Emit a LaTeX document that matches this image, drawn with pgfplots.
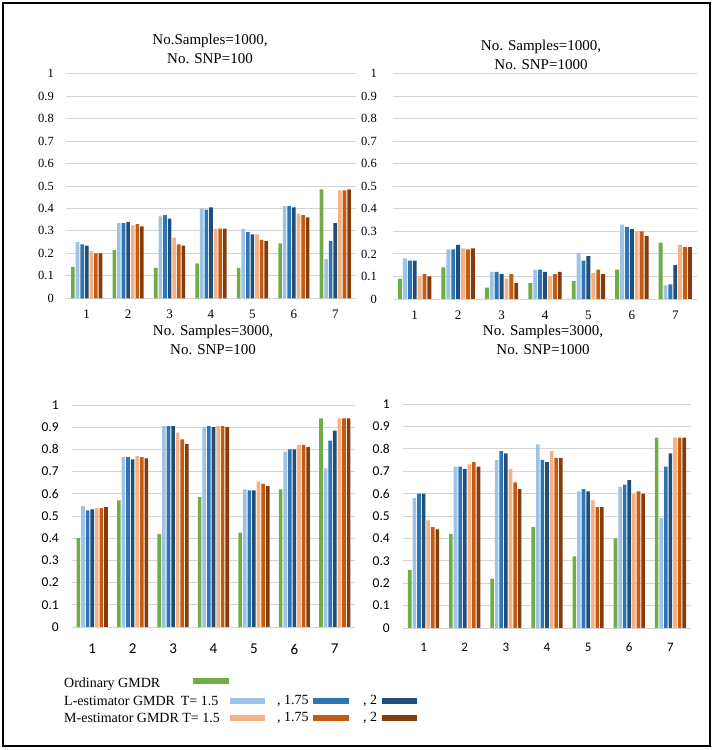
\documentclass[border=0pt]{standalone}
\usepackage{fontspec}
\setmainfont{Liberation Serif}
\newfontfamily\calib{Carlito}
\usepackage{pgfplots}
\usepackage{pgfplotstable}
\pgfplotsset{compat=1.18}

\definecolor{cg}{HTML}{70AD47}
\definecolor{lb}{HTML}{9DC3E6}
\definecolor{mb}{HTML}{2E75B6}
\definecolor{db}{HTML}{1F4E79}
\definecolor{lo}{HTML}{F4B183}
\definecolor{mo}{HTML}{C55A11}
\definecolor{br}{HTML}{843C0C}

\pgfplotstableread{
g a b c d e f h
1 0.14 0.25 0.24 0.235 0.21 0.20 0.20
2 0.215 0.335 0.335 0.34 0.325 0.33 0.32
3 0.135 0.365 0.37 0.355 0.27 0.24 0.235
4 0.155 0.40 0.395 0.405 0.31 0.31 0.31
5 0.135 0.31 0.295 0.285 0.285 0.26 0.255
6 0.245 0.41 0.41 0.405 0.375 0.37 0.36
7 0.485 0.175 0.255 0.335 0.48 0.48 0.485
}\tA
\pgfplotstableread{
g a b c d e f h
1 0.09 0.18 0.17 0.17 0.10 0.11 0.10
2 0.14 0.22 0.22 0.24 0.225 0.22 0.225
3 0.05 0.12 0.12 0.11 0.09 0.11 0.07
4 0.07 0.13 0.13 0.12 0.10 0.11 0.12
5 0.08 0.205 0.17 0.19 0.115 0.13 0.11
6 0.13 0.33 0.32 0.31 0.30 0.30 0.28
7 0.25 0.06 0.065 0.15 0.24 0.23 0.23
}\tB
\pgfplotstableread{
g a b c d e f h
1 0.40 0.545 0.525 0.53 0.535 0.535 0.54
2 0.57 0.765 0.765 0.755 0.77 0.765 0.76
3 0.42 0.905 0.905 0.905 0.875 0.845 0.825
4 0.585 0.90 0.905 0.90 0.905 0.905 0.90
5 0.425 0.62 0.615 0.615 0.655 0.645 0.635
6 0.62 0.79 0.80 0.80 0.82 0.82 0.81
7 0.94 0.715 0.84 0.885 0.94 0.94 0.94
}\tC
\pgfplotstableread{
g a b c d e f h
1 0.26 0.58 0.60 0.60 0.48 0.45 0.44
2 0.42 0.72 0.72 0.71 0.73 0.74 0.72
3 0.22 0.75 0.79 0.78 0.71 0.65 0.62
4 0.45 0.82 0.75 0.74 0.79 0.76 0.76
5 0.32 0.61 0.62 0.61 0.57 0.54 0.54
6 0.40 0.63 0.64 0.66 0.60 0.61 0.60
7 0.85 0.49 0.72 0.78 0.85 0.85 0.85
}\tD

\pgfplotsset{
  panel/.style={
    scale only axis, anchor=south west,
    ybar=1pt, bar width=3.6pt,
    ymin=0, ymax=1, xmin=0.5, xmax=7.5,
    xtick={1,2,3,4,5,6,7}, xticklabels={1,2,3,4,5,6,7},
    ytick={0,0.1,0.2,0.3,0.4,0.5,0.6,0.7,0.8,0.9,1},
    yticklabels={0,0.1,0.2,0.3,0.4,0.5,0.6,0.7,0.8,0.9,1},
    axis line style={draw=none},
    major tick length=0pt,
    ymajorgrids,
    major grid style={draw=black!17, line width=0.9pt},
    every axis plot/.append style={draw=none},
  },
}
\newcommand\bars[1]{%
  \addplot[fill=cg] table[x=g,y=a]{#1};
  \addplot[fill=lb] table[x=g,y=b]{#1};
  \addplot[fill=mb] table[x=g,y=c]{#1};
  \addplot[fill=db] table[x=g,y=d]{#1};
  \addplot[fill=lo] table[x=g,y=e]{#1};
  \addplot[fill=mo] table[x=g,y=f]{#1};
  \addplot[fill=br] table[x=g,y=h]{#1};
}

\begin{document}
\begin{tikzpicture}
\path (0pt,0pt) rectangle (713pt,750pt);
\draw[line width=1.8pt] (3pt,4pt) rectangle (710pt,747pt);

% Panel 1
\begin{axis}[panel, at={(66pt,451.7pt)}, width=290pt, height=224.6pt,
  yticklabel style={anchor=east, inner sep=0pt, xshift=-12pt, font=\fontsize{12.5}{14}\selectfont},
  xticklabel style={anchor=center, inner sep=0pt, yshift=-16pt, font=\fontsize{13}{15}\selectfont}]
\bars{\tA}
\end{axis}
% Panel 2
\begin{axis}[panel, at={(393pt,451pt)}, width=304pt, height=225.3pt, bar width=3.9pt,
  yticklabel style={anchor=east, inner sep=0pt, xshift=-16pt, font=\fontsize{12.5}{14}\selectfont},
  xticklabel style={anchor=center, inner sep=0pt, yshift=-16pt, font=\fontsize{13}{15}\selectfont}]
\bars{\tB}
\end{axis}
% Panel 3
\begin{axis}[panel, at={(72pt,123pt)}, width=283pt, height=222pt,
  yticklabel style={anchor=east, inner sep=0pt, xshift=-13pt, font=\calib\fontsize{13.5}{15}\selectfont},
  xticklabel style={anchor=center, inner sep=0pt, yshift=-22pt, font=\calib\fontsize{15}{17}\selectfont}]
\bars{\tC}
\end{axis}
% Panel 4
\begin{axis}[panel, at={(403pt,122pt)}, width=288pt, height=224pt,
  yticklabel style={anchor=east, inner sep=0pt, xshift=-13pt, font=\calib\fontsize{13.5}{15}\selectfont},
  xticklabel style={anchor=center, inner sep=0pt, yshift=-19pt, font=\calib\fontsize{13}{15}\selectfont}]
\bars{\tD}
\end{axis}

% Titles
\node[align=center, font=\fontsize{15}{18.5}\selectfont] at (210pt,701pt) {No.Samples=1000,\\No. SNP=100};
\node[align=center, font=\fontsize{15}{18.5}\selectfont] at (541pt,695pt) {No. Samples=1000,\\No. SNP=1000};
\node[align=center, font=\fontsize{15}{18.5}\selectfont] at (213pt,410pt) {No. Samples=3000,\\No. SNP=100};
\node[align=center, font=\fontsize{15}{18.5}\selectfont] at (543pt,410pt) {No. Samples=3000,\\No. SNP=1000};

% Legend
\begin{scope}[every node/.style={font=\fontsize{14}{16}\selectfont, inner sep=0pt, anchor=west}]
\node at (64pt,66pt) {Ordinary GMDR};
\fill[cg] (193pt,66pt) rectangle (229pt,72pt);
\node at (64pt,49pt) {L-estimator GMDR\, T= 1.5};
\fill[lb] (230pt,46pt) rectangle (265pt,52pt);
\node at (277pt,49pt) {, 1.75};
\fill[mb] (313pt,46pt) rectangle (349pt,52pt);
\node at (363pt,49pt) {, 2};
\fill[db] (382pt,46pt) rectangle (417pt,52pt);
\node at (64pt,32pt) {M-estimator GMDR T= 1.5};
\fill[lo] (230pt,29pt) rectangle (265pt,35pt);
\node at (277pt,32pt) {, 1.75};
\fill[mo] (313pt,29pt) rectangle (349pt,35pt);
\node at (363pt,32pt) {, 2};
\fill[br] (382pt,29pt) rectangle (417pt,35pt);
\end{scope}
\end{tikzpicture}
\end{document}
